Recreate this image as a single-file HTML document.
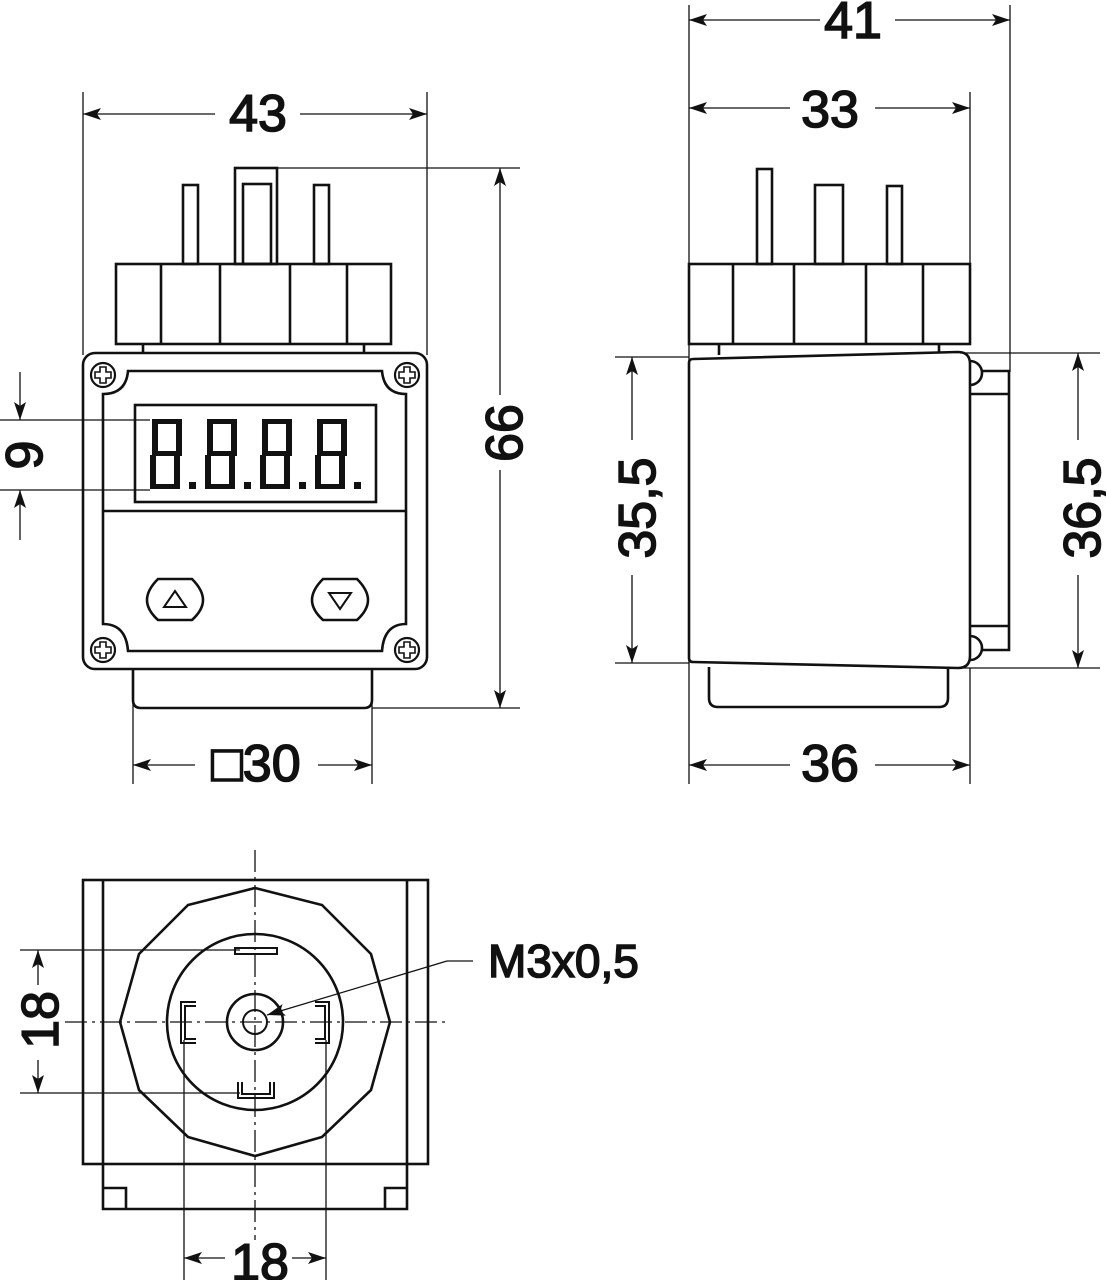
<!DOCTYPE html>
<html><head><meta charset="utf-8"><style>
html,body{margin:0;padding:0;background:#fff;}
svg{display:block;}
text{font-family:"Liberation Sans Narrow","Liberation Sans",sans-serif;font-weight:normal;fill:#111;stroke:#111;stroke-width:1.6;}
</style></head><body>
<svg width="1106" height="1280" viewBox="0 0 1106 1280" xmlns="http://www.w3.org/2000/svg">
<defs>
<marker id="a" viewBox="0 0 18 12" refX="18" refY="6" markerWidth="18" markerHeight="12" markerUnits="userSpaceOnUse" orient="auto-start-reverse">
<path d="M0,0 L18,6 L0,12 L4,6 Z" fill="#111"/></marker>
</defs>
<g stroke="#111" fill="none" stroke-width="1.3">
<line x1="83" y1="92" x2="83" y2="355"/>
<line x1="427" y1="92" x2="427" y2="355"/>
<line x1="83" y1="114" x2="215" y2="114" marker-start="url(#a)"/>
<line x1="300" y1="114" x2="427" y2="114" marker-end="url(#a)"/>
<line x1="278" y1="168" x2="520" y2="168"/>
<line x1="372" y1="708" x2="520" y2="708"/>
<line x1="500" y1="168" x2="500" y2="395" marker-start="url(#a)"/>
<line x1="500" y1="470" x2="500" y2="708" marker-end="url(#a)"/>
<line x1="0" y1="420" x2="150" y2="420"/>
<line x1="0" y1="490" x2="150" y2="490"/>
<line x1="20" y1="372" x2="20" y2="420" marker-end="url(#a)"/>
<line x1="20" y1="540" x2="20" y2="490" marker-end="url(#a)"/>
<line x1="133" y1="700" x2="133" y2="784"/>
<line x1="372" y1="700" x2="372" y2="784"/>
<line x1="133" y1="765" x2="195" y2="765" marker-start="url(#a)"/>
<line x1="318" y1="765" x2="372" y2="765" marker-end="url(#a)"/>
</g>
<g stroke="#111" fill="none" stroke-width="2.6">
<rect x="183" y="185" width="15" height="79"/>
<rect x="235" y="168" width="42" height="96"/>
<rect x="243" y="184" width="28" height="80"/>
<rect x="314" y="185" width="15" height="79"/>
<rect x="116" y="264" width="275" height="80"/>
<line x1="161" y1="264" x2="161" y2="344"/><line x1="220" y1="264" x2="220" y2="344"/>
<line x1="290" y1="264" x2="290" y2="344"/><line x1="347" y1="264" x2="347" y2="344"/>
<line x1="143" y1="344" x2="143" y2="353"/><line x1="364" y1="344" x2="364" y2="353"/>
<rect x="83" y="353" width="344" height="316" rx="12"/>
<path d="M103,394 Q126,394 128,371 H382 Q384,394 406,394 V624 Q384,624 382,651 H128 Q126,624 103,624 Z"/>
<line x1="103" y1="511" x2="406" y2="511"/>
<rect x="135" y="405" width="241" height="97"/>
<g stroke-width="2.2">
<circle cx="103" cy="375" r="12"/><circle cx="407" cy="375" r="12"/>
<circle cx="103" cy="650" r="12"/><circle cx="407" cy="650" r="12"/>
</g>
<g stroke-width="1.6">
<path d="M100,367 h6 v5 h5 v6 h-5 v5 h-6 v-5 h-5 v-6 h5 z"/>
<path d="M404,367 h6 v5 h5 v6 h-5 v5 h-6 v-5 h-5 v-6 h5 z"/>
<path d="M100,642 h6 v5 h5 v6 h-5 v5 h-6 v-5 h-5 v-6 h5 z"/>
<path d="M404,642 h6 v5 h5 v6 h-5 v5 h-6 v-5 h-5 v-6 h5 z"/>
</g>
<path d="M158,579 H192 Q203,590 203,600 Q203,610 192,620 H158 Q147,610 147,600 Q147,590 158,579 Z"/>
<path d="M323,579 H357 Q368,590 368,600 Q368,610 357,620 H323 Q312,610 312,600 Q312,590 323,579 Z"/>
<path d="M175,591 L186,607 H164 Z" stroke-width="2"/>
<path d="M340,609 L351,593 H329 Z" stroke-width="2"/>
<path d="M133,669 V700 Q133,708 141,708 H364 Q372,708 372,700 V669"/>
</g>
<g fill="#111">
<g id="d">
<rect x="152" y="419" width="30" height="5"/>
<rect x="152" y="419" width="6" height="33"/>
<rect x="176" y="419" width="6" height="33"/>
<rect x="152" y="451" width="30" height="5"/>
<rect x="150" y="455" width="6" height="34"/>
<rect x="174" y="455" width="6" height="34"/>
<rect x="150" y="484" width="30" height="5"/>
<rect x="189" y="482" width="7" height="7"/>
</g>
<use href="#d" x="55"/><use href="#d" x="110"/><use href="#d" x="165"/>
</g>

<g stroke="#111" fill="none" stroke-width="1.3">
<line x1="689" y1="5" x2="689" y2="784"/>
<line x1="1010" y1="5" x2="1010" y2="372"/>
<line x1="970" y1="92" x2="970" y2="270"/>
<line x1="970" y1="668" x2="970" y2="784"/>
<line x1="689" y1="20" x2="820" y2="20" marker-start="url(#a)"/>
<line x1="895" y1="20" x2="1010" y2="20" marker-end="url(#a)"/>
<line x1="689" y1="108" x2="790" y2="108" marker-start="url(#a)"/>
<line x1="875" y1="108" x2="970" y2="108" marker-end="url(#a)"/>
<line x1="689" y1="765" x2="790" y2="765" marker-start="url(#a)"/>
<line x1="875" y1="765" x2="970" y2="765" marker-end="url(#a)"/>
<line x1="615" y1="357" x2="689" y2="357"/>
<line x1="615" y1="663" x2="689" y2="663"/>
<line x1="632" y1="357" x2="632" y2="440" marker-start="url(#a)"/>
<line x1="632" y1="575" x2="632" y2="663" marker-end="url(#a)"/>
<line x1="960" y1="353" x2="1100" y2="353"/>
<line x1="955" y1="668" x2="1100" y2="668"/>
<line x1="1078" y1="353" x2="1078" y2="440" marker-start="url(#a)"/>
<line x1="1078" y1="575" x2="1078" y2="668" marker-end="url(#a)"/>
</g>
<g stroke="#111" fill="none" stroke-width="2.6">
<rect x="757" y="169" width="15" height="95"/>
<rect x="815" y="185" width="28" height="79"/>
<rect x="887" y="186" width="15" height="78"/>
<rect x="689" y="264" width="281" height="80"/>
<line x1="733" y1="264" x2="733" y2="344"/><line x1="794" y1="264" x2="794" y2="344"/>
<line x1="866" y1="264" x2="866" y2="344"/><line x1="923" y1="264" x2="923" y2="344"/>
<line x1="719" y1="344" x2="719" y2="355"/><line x1="939" y1="344" x2="939" y2="352"/>
<path d="M693,359 L958,352 Q970,352 970,364 V656 Q970,668 958,668 L693,662 Q689,662 689,658 V363 Q689,359 693,359 Z"/>
<path d="M970,361 A12,12 0 0 1 970,385"/>
<path d="M970,636 A12,12 0 0 1 970,660"/>
<path d="M982,371 H1009 V650 H982"/>
<line x1="970" y1="394" x2="1009" y2="394"/>
<line x1="970" y1="626" x2="1009" y2="626"/>
<path d="M709,667 V698 Q709,707 718,707 H939 Q948,707 948,698 V668"/>
</g>

<g stroke="#111" fill="none" stroke-width="1.3">
<line x1="255" y1="850" x2="255" y2="1240" stroke-dasharray="22,5,3,5"/>
<line x1="65" y1="1022" x2="447" y2="1022" stroke-dasharray="22,5,3,5"/>
<line x1="20" y1="950" x2="240" y2="950"/>
<line x1="20" y1="1093" x2="240" y2="1093"/>
<line x1="38" y1="950" x2="38" y2="985" marker-start="url(#a)"/>
<line x1="38" y1="1060" x2="38" y2="1093" marker-end="url(#a)"/>
<line x1="184" y1="1040" x2="184" y2="1280"/>
<line x1="326" y1="1040" x2="326" y2="1280"/>
<line x1="184" y1="1258" x2="225" y2="1258" marker-start="url(#a)"/>
<line x1="292" y1="1258" x2="326" y2="1258" marker-end="url(#a)"/>
<line x1="473" y1="961" x2="447" y2="961"/>
<line x1="447" y1="961" x2="267" y2="1015" marker-end="url(#a)"/>
</g>
<g stroke="#111" fill="none" stroke-width="2.6">
<rect x="83" y="880" width="345" height="284"/>
<path d="M103,880 V1209 H407 V880"/>
<path d="M103,1188 H126 V1209"/>
<path d="M407,1188 H385 V1209"/>
<polygon points="255,888 322,905 371,954 390,1022 371,1090 322,1137 255,1156 188,1137 139,1090 120,1022 139,954 188,905"/>
<circle cx="255" cy="1022" r="88"/>
<circle cx="255" cy="1022" r="28"/>
<circle cx="255" cy="1022" r="12" stroke-width="2"/>
<rect x="235" y="948" width="42" height="6" stroke-width="2"/>
<path d="M238,1082 V1098 H274 V1082 M242,1082 V1094 H270 V1082" stroke-width="2"/>
<path d="M196,1002 H181 V1043 H196 M196,1006 H185 V1039 H196" stroke-width="2"/>
<path d="M315,1002 H329 V1043 H315 M315,1006 H325 V1039 H315" stroke-width="2"/>
</g>

<g font-size="52" text-anchor="middle">
<text x="258" y="131">43</text>
<text x="853" y="38">41</text>
<text x="830" y="127">33</text>
<text x="830" y="781">36</text>
<text x="256" y="781">□30</text>
<text x="260" y="1280">18</text>
<text transform="translate(522,433) rotate(-90)" x="0" y="0">66</text>
<text transform="translate(42,455) rotate(-90)" x="0" y="0">9</text>
<text transform="translate(655,508) rotate(-90)" x="0" y="0">35,5</text>
<text transform="translate(1100,508) rotate(-90)" x="0" y="0">36,5</text>
<text transform="translate(58,1020) rotate(-90)" x="0" y="0">18</text>
</g>
<text x="488" y="977" font-size="46">M3x0,5</text>
</svg>
</body></html>
